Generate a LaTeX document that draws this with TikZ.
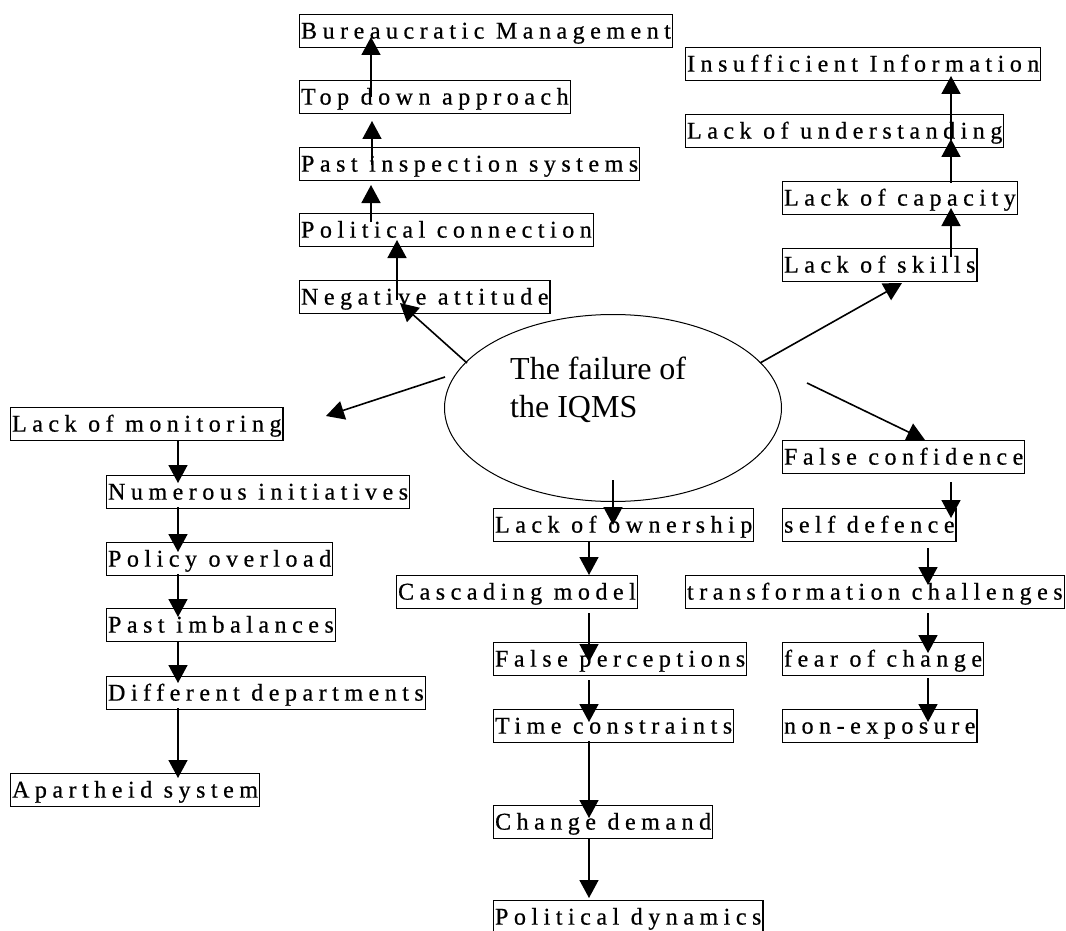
\documentclass[tikz,border=0pt]{standalone}
\usepackage{fontspec}
\setmainfont{Liberation Serif}
\newfontfamily\boxfont[LetterSpace=23,FakeBold=0.6]{Liberation Serif}
\usetikzlibrary{arrows.meta,shapes.geometric,calc}
\begin{document}
\begin{tikzpicture}[x=1pt,y=-1pt,
  cause/.style={draw, line width=1.2pt, anchor=north west, inner xsep=1.5pt,
    inner ysep=3pt, text height=21pt, text depth=6pt,
    font=\boxfont\fontsize{24}{28}\selectfont},
  link/.style={line width=1.6pt, -{Triangle[length=18pt,width=19pt]}},
  hub/.style={draw, ellipse, line width=1pt, minimum width=337pt,
    minimum height=187pt, inner sep=0pt}
]
\useasboundingbox (0,0) rectangle (1066,931);

% central ellipse
\node[hub] (core) at (613,408) {};
\node[font=\fontsize{32}{38}\selectfont, align=left, anchor=base west, inner sep=0pt]
  (coretext) at (510,417) {The failure of\\the IQMS};

% upper left chain
\node[cause] (bm)  at (299,14)  {Bureaucratic Management};
\node[cause] (td)  at (299,80)  {Top down approach};
\node[cause] (pis) at (299,147) {Past inspection systems};
\node[cause] (pc)  at (299,213) {Political connection};
\node[cause] (na)  at (299,280) {Negative attitude};

% upper right chain
\node[cause] (ii) at (685,47)  {Insufficient Information};
\node[cause] (lu) at (685,114) {Lack of understanding};
\node[cause] (lc) at (782,181) {Lack of capacity};
\node[cause] (ls) at (782,248) {Lack of skills};

% left chain
\node[cause] (lm)  at (10,407)  {Lack of monitoring};
\node[cause] (ni)  at (106,475) {Numerous initiatives};
\node[cause] (po)  at (106,542) {Policy overload};
\node[cause] (pim) at (106,608) {Past imbalances};
\node[cause] (dd)  at (106,676) {Different departments};
\node[cause] (aps) at (10,773)  {Apartheid system};

% middle chain
\node[cause] (lo) at (493,508) {Lack of ownership};
\node[cause] (cm) at (396,575) {Cascading model};
\node[cause] (fp) at (493,642) {False perceptions};
\node[cause] (tc) at (493,709) {Time constraints};
\node[cause] (cd) at (493,805) {Change demand};
\node[cause] (pd) at (493,900) {Political dynamics};

% right chain
\node[cause] (fc)  at (782,440) {False confidence};
\node[cause] (sd)  at (782,508) {self defence};
\node[cause] (tch) at (685,575) {transformation challenges};
\node[cause] (foc) at (782,642) {fear of change};
\node[cause] (ne)  at (782,709) {non-exposure};

% arrows out of the ellipse
\draw[link] ($(core.center)+(-146,-45)$) -- ($(na.north west)+(101,23)$);
\draw[link] ($(core.center)+(-168,-31)$) -- ($(lm.north west)+(316,9)$);
\draw[link] ($(core.center)+(147,-45)$) -- ($(ls.north west)+(120,35)$);
\draw[link] ($(core.center)+(194,-25)$) -- ($(fc.north west)+(143,0)$);
\draw[link] ($(core.center)+(0,72)$) -- ($(lo.north west)+(120,17)$);

% upper left chain
\draw[link] ($(na.north west)+(98,20)$) -- ($(pc.north west)+(98,27)$);
\draw[link] ($(pc.north west)+(72,9)$) -- ($(pis.north west)+(72,38)$);
\draw[link] ($(pis.north west)+(73,18)$) -- ($(td.north west)+(73,41)$);
\draw[link] ($(td.north west)+(72,17)$) -- ($(bm.north west)+(72,23)$);

% upper right chain
\draw[link] ($(ls.north west)+(169,9)$) -- ($(lc.north west)+(169,27)$);
\draw[link] ($(lc.north west)+(169,2)$) -- ($(lu.north west)+(266,25)$);
\draw[link] ($(lu.north west)+(266,26)$) -- ($(ii.north west)+(266,29)$);

% left chain
\draw[link] ($(lm.north west)+(168,33)$) -- ($(ni.north west)+(72,8)$);
\draw[link] ($(ni.north west)+(72,32)$) -- ($(po.north west)+(72,10)$);
\draw[link] ($(po.north west)+(72,32)$) -- ($(pim.north west)+(72,9)$);
\draw[link] ($(pim.north west)+(72,33)$) -- ($(dd.north west)+(72,7)$);
\draw[link] ($(dd.north west)+(72,32)$) -- ($(aps.north west)+(168,5)$);

% middle chain
\draw[link] ($(lo.north west)+(96,33)$) -- ($(cm.north west)+(193,0)$);
\draw[link] ($(cm.north west)+(193,38)$) -- ($(fp.north west)+(96,20)$);
\draw[link] ($(fp.north west)+(96,38)$) -- ($(tc.north west)+(96,13)$);
\draw[link] ($(tc.north west)+(96,32)$) -- ($(cd.north west)+(96,13)$);
\draw[link] ($(cd.north west)+(96,33)$) -- ($(pd.north west)+(96,-2)$);

% right chain
\draw[link] ($(fc.north west)+(169,42)$) -- ($(sd.north west)+(169,10)$);
\draw[link] ($(sd.north west)+(146,40)$) -- ($(tch.north west)+(243,10)$);
\draw[link] ($(tch.north west)+(243,38)$) -- ($(foc.north west)+(146,11)$);
\draw[link] ($(foc.north west)+(146,36)$) -- ($(ne.north west)+(146,13)$);
\end{tikzpicture}
\end{document}
